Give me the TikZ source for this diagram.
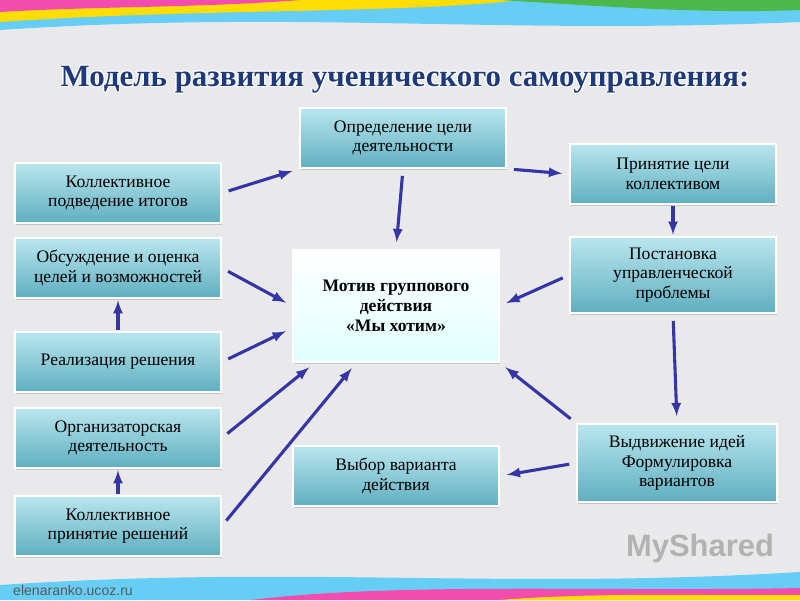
\documentclass[tikz,border=0pt]{standalone}
\usepackage{fontspec}
\setmainfont{Liberation Serif}
\newfontfamily\urlfont{Liberation Sans}
\usepackage{tikz}
\usetikzlibrary{shadows}

\definecolor{navyarrow}{HTML}{3535A5}
\definecolor{boxtop}{HTML}{B9E6EE}
\definecolor{boxbot}{HTML}{5FAFC0}
\definecolor{titleblue}{HTML}{1F3A7A}
\definecolor{bggray}{HTML}{E9E9EB}
\newcommand{\titletext}{Модель развития ученического самоуправления:}

\begin{document}
\begin{tikzpicture}[x=0.025cm, y=-0.025cm,
    stepbox/.style={draw=white, line width=1.2pt, top color=boxtop, bottom color=boxbot,
      minimum width=5.15cm, minimum height=1.5cm, align=center, font=\fontsize{12.5}{14}\selectfont,
      drop shadow={opacity=0.35, shadow xshift=1pt, shadow yshift=-1.5pt}},
    titlefont/.style={font=\bfseries\fontsize{22}{26}\selectfont},
    arr/.style={-latex, navyarrow, line width=2.2pt, shorten >=5pt, shorten <=5pt},
    shortarr/.style={arr, shorten >=1pt, shorten <=1pt}]
    \useasboundingbox (0,0) rectangle (800,600);
    % background and stripes
    \fill[bggray] (0,0) rectangle (800,600);
    \fill[cyan!60] (0,0) -- (800,0) -- (800,22) .. controls (500,35) and (300,10) .. (0,30) -- cycle;
    \fill[yellow!80!orange] (0,0) -- (520,0) .. controls (400,14) and (200,8) .. (0,22) -- cycle;
    \fill[magenta!70] (0,0) -- (300,0) .. controls (200,8) and (100,6) .. (0,12) -- cycle;
    \fill[green!60!black!70] (500,0) -- (800,0) -- (800,10) .. controls (700,14) and (600,6) .. cycle;
    \fill[cyan!60] (0,600) -- (800,600) -- (800,572) .. controls (500,590) and (300,565) .. (0,585) -- cycle;
    \fill[magenta!70] (250,600) -- (800,600) -- (800,588) .. controls (600,592) and (400,582) .. cycle;
    \fill[yellow!80!orange] (500,600) -- (800,600) -- (800,595) .. controls (700,596) and (600,592) .. cycle;
    % title with white outline
    \foreach \dx/\dy in {-1.2/0,1.2/0,0/-1.2,0/1.2,-0.9/-0.9,0.9/0.9,-0.9/0.9,0.9/-0.9}
      \node[titlefont, text=white] at (405+\dx,80+\dy) {\titletext};
    \node[titlefont, text=titleblue] (title) at (405,80) {\titletext};
    % boxes
    \node[stepbox] (opr) at (403,138) {Определение цели\\деятельности};
    \node[stepbox] (prin) at (673,174) {Принятие цели\\коллективом};
    \node[stepbox] (podv) at (118,193) {Коллективное\\подведение итогов};
    \node[stepbox] (obs) at (118,268) {Обсуждение и оценка\\целей и возможностей};
    \node[stepbox, minimum height=1.9cm] (post) at (673,275) {Постановка\\управленческой\\проблемы};
    \node[stepbox, top color=white, bottom color=cyan!12, minimum height=2.8cm,
      font=\bfseries\fontsize{12.5}{14}\selectfont] (motiv) at (396,306) {Мотив группового\\действия\\«Мы хотим»};
    \node[stepbox] (real) at (118,362) {Реализация решения};
    \node[stepbox] (org) at (118,438) {Организаторская\\деятельность};
    \node[stepbox, minimum width=5cm, minimum height=1.95cm] (vyd) at (677,463) {Выдвижение идей\\Формулировка\\вариантов};
    \node[stepbox] (vyb) at (396,476) {Выбор варианта\\действия};
    \node[stepbox] (kpr) at (118,526) {Коллективное\\принятие решений};
    % arrows
    \draw[arr] (podv.east) -- (opr.south west);
    \draw[arr] (opr.south) -- (motiv.north);
    \draw[arr] (opr.south east) -- (prin.west);
    \draw[shortarr] (prin.south) -- (post.north);
    \draw[arr] (post.west) -- (motiv.east);
    \draw[arr] (post.south) -- (vyd.north);
    \draw[arr] (vyd.north west) -- (motiv.south east);
    \draw[arr] (vyd.west) -- (vyb.east);
    \draw[arr] (obs.east) -- (motiv.west);
    \draw[shortarr] (real.north) -- (obs.south);
    \draw[arr] (real.east) -- (motiv.-168);
    \draw[arr] (org.east) -- (motiv.-145);
    \draw[shortarr] (kpr.north) -- (org.south);
    \draw[arr] (kpr.east) -- (motiv.-125);
    % watermarks
    \node[font=\urlfont\fontsize{10}{12}\selectfont, text=gray!70!black] (url) at (73,590) {elenaranko.ucoz.ru};
    \node[font=\urlfont\bfseries\fontsize{22}{24}\selectfont, text=gray!60] (logo) at (700,548) {MyShared};
\end{tikzpicture}
\end{document}
